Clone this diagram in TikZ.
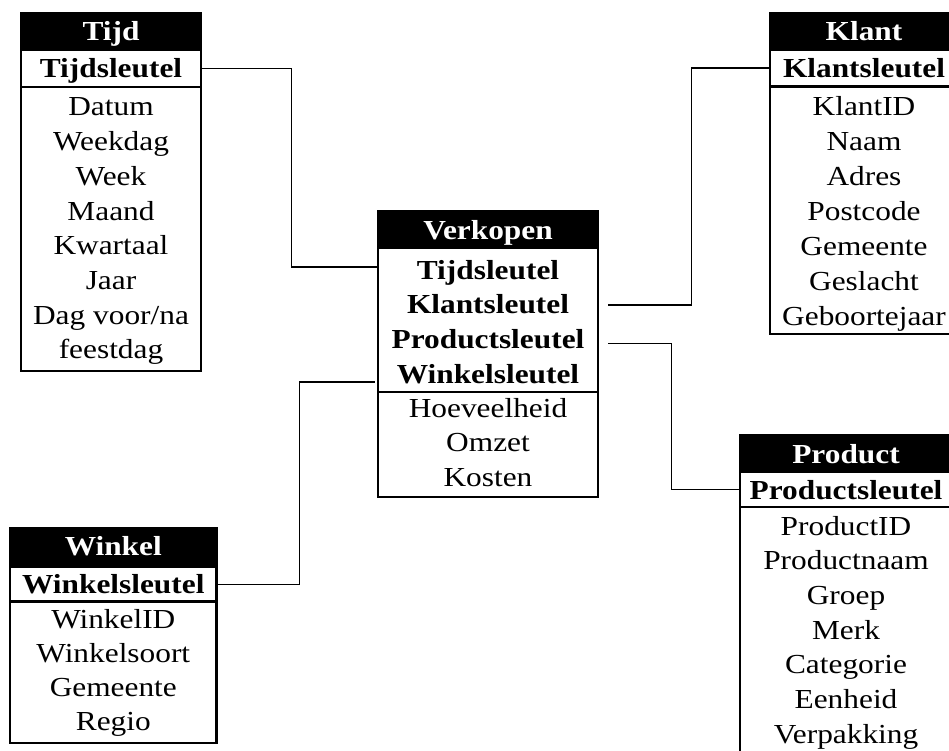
\documentclass[tikz,border=0pt]{standalone}
\usepackage{fontspec}
\setmainfont{Liberation Serif}[FakeStretch=1.14]
\usetikzlibrary{calc}
\newcommand{\tabfont}{\fontsize{27.5}{34.7}\selectfont}

\begin{document}
\begin{tikzpicture}[x=1pt, y=-1pt,
		tabtitle/.style={fill=black, text=white, font=\tabfont\bfseries, inner sep=0pt, text height=26pt, text depth=6pt},
		tabkey/.style={draw, line width=2.6pt, font=\tabfont\bfseries, inner sep=0pt, text height=24pt, text depth=5pt},
		tabbody/.style={draw, line width=2.6pt, inner sep=0pt},
		attr/.style={anchor=base, inner sep=0pt, font=\tabfont},
		keyattr/.style={anchor=base, inner sep=0pt, font=\tabfont\bfseries},
		link/.style={draw, line width=1.5pt}
	]
		\useasboundingbox (0,0) rectangle (949,751);
		\fill[white] (0,0) rectangle (949,751);
		\clip (0,0) rectangle (949,751);
		% Tijd
		\node[tabtitle, minimum width=182.6pt, minimum height=38pt] (tijd) at (111,31) {Tijd};
		\node[tabkey, minimum width=180pt, minimum height=37pt] (tijdkey) at (111,68.5) {Tijdsleutel};
		\node[tabbody, minimum width=180pt, minimum height=284pt] (tijdbody) at (111,229) {};
		\foreach \attr [count=\i from 0] in {Datum, Weekdag, Week, Maand, Kwartaal, Jaar, Dag voor/na, feestdag}
			\node[attr] (tijd-\i) at (111,{116+\i*34.7}) {\attr};
		% Verkopen
		\node[tabtitle, minimum width=222.6pt, minimum height=38pt] (verkopen) at (488,229) {Verkopen};
		\node[tabkey, minimum width=220pt, minimum height=144pt] (verkkey) at (488,320) {};
		\foreach \attr [count=\i from 0] in {Tijdsleutel, Klantsleutel, Productsleutel, Winkelsleutel}
			\node[keyattr] (verkkey-\i) at (488,{279+\i*34.7}) {\attr};
		\node[tabbody, minimum width=220pt, minimum height=105pt] (verkbody) at (488,444.5) {};
		\foreach \attr [count=\i from 0] in {Hoeveelheid, Omzet, Kosten}
			\node[attr] (verk-\i) at (488,{417+\i*34.7}) {\attr};
		% Klant
		\node[tabtitle, minimum width=190.6pt, minimum height=38pt] (klant) at (864,31) {Klant};
		\node[tabkey, minimum width=188pt, minimum height=36.5pt] (klantkey) at (864,68.25) {Klantsleutel};
		\node[tabbody, minimum width=188pt, minimum height=247.5pt] (klantbody) at (864,210.25) {};
		\foreach \attr [count=\i from 0] in {KlantID, Naam, Adres, Postcode, Gemeente, Geslacht, Geboortejaar}
			\node[attr] (klant-\i) at (864,{115.5+\i*35}) {\attr};
		% Product
		\node[tabtitle, minimum width=214.6pt, minimum height=38pt] (product) at (846,453) {Product};
		\node[tabkey, minimum width=212pt, minimum height=35pt] (productkey) at (846,489.5) {Productsleutel};
		\node[tabbody, minimum width=212pt, minimum height=263pt] (productbody) at (846,638.5) {};
		\foreach \attr [count=\i from 0] in {ProductID, Productnaam, Groep, Merk, Categorie, Eenheid, Verpakking}
			\node[attr] (product-\i) at (846,{535+\i*34.7}) {\attr};
		% Winkel
		\node[tabtitle, minimum width=209.3pt, minimum height=40pt, text height=24pt, text depth=8pt] (winkel) at (113.3,547) {Winkel};
		\node[tabkey, minimum width=206.7pt, minimum height=34.7pt] (winkelkey) at (113.3,584.3) {Winkelsleutel};
		\node[tabbody, minimum width=206.7pt, minimum height=141.3pt] (winkelbody) at (113.3,672.3) {};
		\foreach \attr [count=\i from 0] in {WinkelID, Winkelsoort, Gemeente, Regio}
			\node[attr] (winkel-\i) at (113.3,{628+\i*34}) {\attr};
		% verbindingen
		\coordinate (vtijd) at ($(verkkey.north west)!0.139!(verkkey.south west)$);
		\coordinate (vklant) at ($(verkkey.north east)!0.396!(verkkey.south east)+(9,0)$);
		\coordinate (vproduct) at ($(verkkey.north east)!0.66!(verkkey.south east)+(9,0)$);
		\coordinate (vwinkel) at ($(verkkey.north west)!0.924!(verkkey.south west)+(-2,0)$);
		\draw[link] (tijdkey.east) -| ($(vtijd)+(-85,0)$) -- (vtijd);
		\draw[link] (vklant) -| ($(klantkey.west)+(-77,0)$) -- (klantkey.west);
		\draw[link] (vproduct) -| ($(productkey.west)+(-67,0)$) -- (productkey.west);
		\draw[link] (winkelkey.east) -| ($(vwinkel)+(-75,0)$) -- (vwinkel);
	\end{tikzpicture}
\end{document}
